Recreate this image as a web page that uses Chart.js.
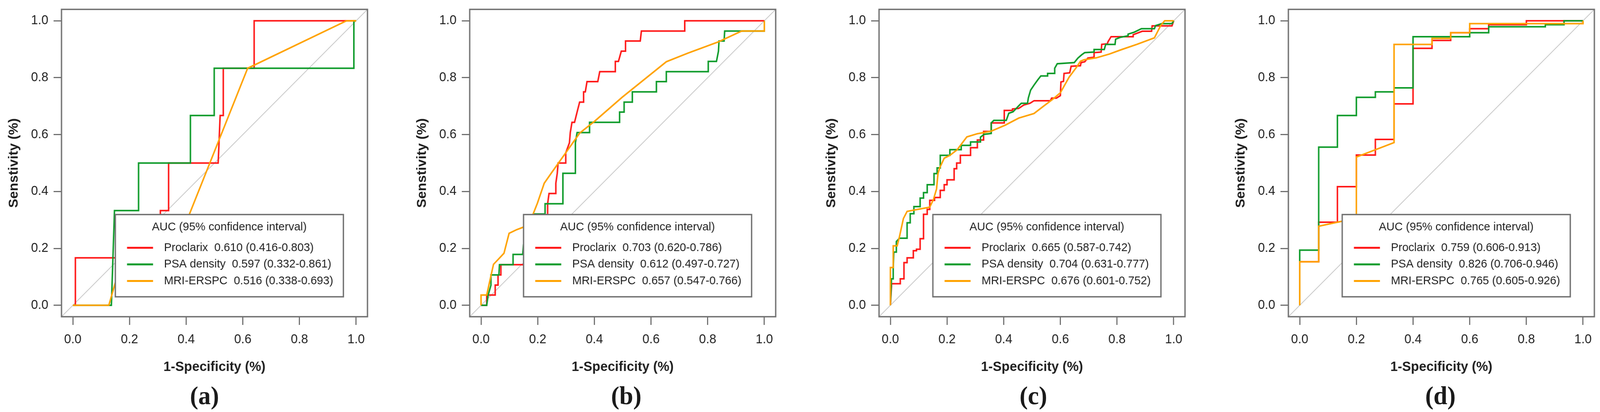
<!DOCTYPE html>
<html>
<head>
<meta charset="utf-8">
<script src="https://cdn.jsdelivr.net/npm/chart.js@4.4.0/dist/chart.umd.min.js"></script>
<style>
html, body { margin: 0; padding: 0; background: #fff; overflow: hidden; }
#page { position: relative; width: 4241px; height: 1055px; transform-origin: 0 0; }
#page canvas { position: absolute; top: 0; }
.tag { position: absolute; top: 980px; font: bold 66px "Liberation Serif", "Times New Roman", serif; line-height: 66px; color: #1a1a1a; transform: translateX(-50%); white-space: nowrap; }
</style>
</head>
<body>
<div id="page"></div>
<script>
// ---- data ----
const tickValues = [0, 0.2, 0.4, 0.6, 0.8, 1.0];
const modelNames = ['Proclarix', 'PSA density', 'MRI-ERSPC'];
const panelTags = ['(a)', '(b)', '(c)', '(d)'];

const aucA = ['0.610 (0.416-0.803)', '0.597 (0.332-0.861)', '0.516 (0.338-0.693)'];
const aucB = ['0.703 (0.620-0.786)', '0.612 (0.497-0.727)', '0.657 (0.547-0.766)'];
const aucC = ['0.665 (0.587-0.742)', '0.704 (0.631-0.777)', '0.676 (0.601-0.752)'];
const aucD = ['0.759 (0.606-0.913)', '0.826 (0.706-0.946)', '0.765 (0.605-0.926)'];

// reference line y = x across the whole plot region
const chanceLine = [[-0.04, -0.04], [1.04, 1.04]];

// [1-specificity, sensitivity]
const rocA_proclarix = [[0,0],[0.009,0],[0.009,0.167],[0.309,0.167],[0.309,0.333],[0.338,0.333],[0.338,0.5],[0.513,0.5],[0.52,0.667],[0.531,0.667],[0.531,0.833],[0.64,0.833],[0.64,1],[1,1]];
const rocA_psa = [[0,0],[0.136,0],[0.147,0.333],[0.232,0.333],[0.232,0.5],[0.415,0.5],[0.415,0.667],[0.499,0.667],[0.499,0.833],[0.992,0.833],[0.992,1],[1,1]];
const rocA_mri = [[0,0],[0.127,0],[0.175,0.167],[0.35,0.167],[0.617,0.833],[0.966,1],[1,1]];

const rocB_proclarix = [[0,0],[0.02,0],[0.02,0.036],[0.05,0.036],[0.05,0.071],[0.06,0.071],[0.06,0.107],[0.07,0.107],[0.07,0.143],[0.17,0.143],[0.17,0.214],[0.2,0.25],[0.225,0.286],[0.235,0.321],[0.235,0.357],[0.24,0.393],[0.264,0.393],[0.264,0.429],[0.269,0.464],[0.272,0.5],[0.299,0.5],[0.299,0.536],[0.312,0.571],[0.315,0.607],[0.321,0.643],[0.33,0.643],[0.339,0.679],[0.348,0.714],[0.362,0.714],[0.362,0.75],[0.368,0.75],[0.374,0.786],[0.412,0.786],[0.419,0.821],[0.474,0.821],[0.474,0.857],[0.485,0.857],[0.495,0.893],[0.51,0.893],[0.51,0.929],[0.562,0.929],[0.566,0.964],[0.719,0.964],[0.719,1],[1,1]];
const rocB_psa = [[0,0],[0.02,0],[0.025,0.036],[0.035,0.071],[0.035,0.107],[0.063,0.107],[0.065,0.143],[0.113,0.143],[0.113,0.179],[0.147,0.179],[0.15,0.214],[0.17,0.25],[0.185,0.286],[0.185,0.321],[0.226,0.321],[0.226,0.357],[0.289,0.357],[0.289,0.464],[0.333,0.464],[0.333,0.571],[0.339,0.607],[0.383,0.607],[0.383,0.643],[0.489,0.643],[0.489,0.679],[0.505,0.679],[0.505,0.714],[0.534,0.714],[0.534,0.75],[0.619,0.75],[0.619,0.786],[0.654,0.786],[0.654,0.821],[0.802,0.821],[0.802,0.857],[0.831,0.857],[0.838,0.893],[0.84,0.929],[0.858,0.929],[0.86,0.964],[1,0.964],[1,1]];
const rocB_mri = [[0,0],[0,0.036],[0.02,0.036],[0.035,0.104],[0.044,0.144],[0.063,0.164],[0.081,0.183],[0.099,0.253],[0.126,0.266],[0.15,0.275],[0.183,0.319],[0.199,0.359],[0.223,0.429],[0.249,0.466],[0.299,0.536],[0.348,0.605],[0.401,0.647],[0.498,0.731],[0.654,0.856],[0.73,0.886],[0.838,0.926],[0.92,0.964],[1,0.964],[1,1]];

const rocC_proclarix = [[0,0],[0.004,0.068],[0.004,0.076],[0.035,0.076],[0.035,0.093],[0.048,0.093],[0.048,0.15],[0.059,0.15],[0.059,0.167],[0.081,0.167],[0.081,0.192],[0.092,0.192],[0.092,0.197],[0.105,0.197],[0.105,0.234],[0.117,0.234],[0.117,0.32],[0.13,0.32],[0.13,0.337],[0.139,0.337],[0.139,0.369],[0.156,0.369],[0.156,0.379],[0.176,0.379],[0.176,0.404],[0.19,0.404],[0.19,0.424],[0.2,0.424],[0.2,0.441],[0.225,0.441],[0.225,0.48],[0.234,0.48],[0.234,0.5],[0.247,0.5],[0.247,0.527],[0.283,0.527],[0.283,0.554],[0.307,0.554],[0.307,0.581],[0.329,0.581],[0.329,0.611],[0.356,0.611],[0.356,0.641],[0.402,0.641],[0.402,0.685],[0.431,0.685],[0.431,0.69],[0.453,0.692],[0.471,0.704],[0.493,0.71],[0.507,0.719],[0.565,0.719],[0.569,0.728],[0.586,0.728],[0.6,0.737],[0.602,0.785],[0.611,0.787],[0.613,0.815],[0.633,0.817],[0.638,0.84],[0.671,0.842],[0.673,0.853],[0.686,0.856],[0.697,0.869],[0.719,0.872],[0.719,0.888],[0.744,0.89],[0.746,0.917],[0.766,0.919],[0.768,0.926],[0.779,0.944],[0.857,0.944],[0.857,0.951],[0.889,0.963],[0.922,0.963],[0.924,0.982],[0.994,0.982],[1,1]];
const rocC_psa = [[0,0],[0.004,0.093],[0.01,0.093],[0.01,0.128],[0.012,0.187],[0.021,0.187],[0.021,0.224],[0.032,0.236],[0.059,0.236],[0.059,0.29],[0.07,0.29],[0.07,0.322],[0.083,0.322],[0.083,0.347],[0.105,0.347],[0.105,0.377],[0.117,0.377],[0.117,0.396],[0.13,0.396],[0.13,0.424],[0.154,0.424],[0.154,0.463],[0.165,0.463],[0.165,0.483],[0.176,0.483],[0.176,0.527],[0.21,0.527],[0.21,0.547],[0.25,0.547],[0.25,0.562],[0.283,0.562],[0.283,0.574],[0.318,0.574],[0.318,0.591],[0.331,0.601],[0.356,0.604],[0.356,0.641],[0.365,0.65],[0.409,0.65],[0.418,0.675],[0.433,0.68],[0.453,0.701],[0.462,0.71],[0.484,0.71],[0.487,0.729],[0.495,0.756],[0.507,0.774],[0.52,0.792],[0.531,0.806],[0.555,0.806],[0.555,0.815],[0.58,0.815],[0.58,0.833],[0.589,0.849],[0.649,0.853],[0.662,0.869],[0.676,0.881],[0.686,0.888],[0.719,0.89],[0.719,0.899],[0.755,0.899],[0.76,0.917],[0.793,0.917],[0.795,0.935],[0.812,0.942],[0.839,0.947],[0.839,0.953],[0.861,0.96],[0.886,0.972],[0.932,0.972],[0.936,0.983],[0.958,0.99],[0.994,0.99],[1,1]];
const rocC_mri = [[0,0],[0,0.133],[0.01,0.133],[0.01,0.209],[0.024,0.209],[0.032,0.241],[0.046,0.305],[0.059,0.33],[0.139,0.345],[0.152,0.372],[0.163,0.409],[0.168,0.463],[0.174,0.483],[0.19,0.517],[0.21,0.527],[0.236,0.547],[0.254,0.571],[0.27,0.592],[0.307,0.603],[0.356,0.612],[0.405,0.633],[0.453,0.658],[0.507,0.674],[0.542,0.701],[0.573,0.724],[0.6,0.747],[0.631,0.802],[0.658,0.838],[0.671,0.858],[0.684,0.863],[0.728,0.87],[0.773,0.883],[0.817,0.899],[0.87,0.917],[0.932,0.94],[0.954,0.983],[0.968,1],[1,1]];

const rocD_proclarix = [[0,0],[0,0.153],[0.067,0.153],[0.067,0.292],[0.133,0.292],[0.133,0.417],[0.2,0.417],[0.2,0.528],[0.267,0.528],[0.267,0.583],[0.333,0.583],[0.333,0.708],[0.4,0.708],[0.4,0.903],[0.467,0.903],[0.467,0.931],[0.533,0.931],[0.533,0.958],[0.6,0.958],[0.6,0.972],[0.667,0.972],[0.667,0.986],[0.8,0.986],[0.8,1],[1,1]];
const rocD_psa = [[0,0],[0,0.194],[0.067,0.194],[0.067,0.556],[0.133,0.556],[0.133,0.667],[0.2,0.667],[0.2,0.731],[0.267,0.731],[0.267,0.75],[0.333,0.75],[0.333,0.764],[0.4,0.764],[0.4,0.944],[0.6,0.944],[0.6,0.958],[0.667,0.958],[0.667,0.979],[0.867,0.979],[0.867,0.986],[0.933,0.986],[0.933,1],[1,1]];
const rocD_mri = [[0,0],[0,0.153],[0.067,0.153],[0.067,0.278],[0.133,0.292],[0.2,0.306],[0.2,0.521],[0.333,0.572],[0.333,0.917],[0.467,0.917],[0.467,0.938],[0.533,0.938],[0.533,0.958],[0.6,0.958],[0.6,0.99],[1,0.99],[1,1]];

// ---- styling ----
const FONT = '"Liberation Sans", Arial, Helvetica, sans-serif';
const TEXT = '#1f1f1f';
const FRAME = '#707070';
const seriesColors = ['#ff1a1a', '#109c2c', '#ffa200'];
const boxLefts = [163, 1245, 2330, 3415];
const tagCenters = [542, 1660, 2739, 3818];

const panels = [
  { tag: panelTags[0], auc: aucA, curves: [rocA_proclarix, rocA_psa, rocA_mri] },
  { tag: panelTags[1], auc: aucB, curves: [rocB_proclarix, rocB_psa, rocB_mri] },
  { tag: panelTags[2], auc: aucC, curves: [rocC_proclarix, rocC_psa, rocC_mri] },
  { tag: panelTags[3], auc: aucD, curves: [rocD_proclarix, rocD_psa, rocD_mri] }
];

const toXY = pts => pts.map(p => ({ x: p[0], y: p[1] }));

// legend box inside the plot + the R-style frame
const rocDecor = {
  id: 'rocDecor',
  afterDatasetsDraw(chart, args, opts) {
    const { ctx, scales: { x, y } } = chart;
    const l = x.getPixelForValue(0.15), r = x.getPixelForValue(0.955);
    const t = y.getPixelForValue(0.319), b = y.getPixelForValue(0.03);
    ctx.save();
    ctx.fillStyle = '#fff';
    ctx.fillRect(l, t, r - l, b - t);
    ctx.strokeStyle = FRAME;
    ctx.lineWidth = 3.5;
    ctx.strokeRect(l, t, r - l, b - t);
    ctx.fillStyle = TEXT;
    ctx.font = '30px ' + FONT;
    ctx.textBaseline = 'middle';
    ctx.textAlign = 'center';
    ctx.fillText('AUC (95% confidence interval)', (l + r) / 2, t + 32);
    ctx.textAlign = 'left';
    opts.rows.forEach((row, i) => {
      const yy = t + 85 + i * 42.5;
      ctx.strokeStyle = row.color;
      ctx.lineWidth = 5;
      ctx.beginPath();
      ctx.moveTo(l + 31, yy);
      ctx.lineTo(l + 100, yy);
      ctx.stroke();
      ctx.fillText(row.text, l + 129, yy);
    });
    ctx.restore();
  },
  afterDraw(chart) {
    const { ctx, chartArea: a } = chart;
    ctx.save();
    ctx.strokeStyle = FRAME;
    ctx.lineWidth = 3.5;
    ctx.strokeRect(a.left, a.top, a.right - a.left, a.bottom - a.top);
    ctx.restore();
  }
};

const axisCommon = (title, titlePad) => ({
  type: 'linear',
  min: -0.04,
  max: 1.04,
  afterBuildTicks: s => { s.ticks = tickValues.map(v => ({ value: v })); },
  grid: { drawOnChartArea: false, drawTicks: true, tickLength: 21, tickColor: FRAME, tickWidth: 3 },
  border: { display: false },
  ticks: { callback: v => Number(v).toFixed(1), font: { family: FONT, size: 33 }, color: TEXT, maxRotation: 0, autoSkip: false },
  title: { display: true, text: title, color: TEXT, font: { family: FONT, size: 35, weight: 'bold' }, padding: titlePad }
});

const page = document.getElementById('page');
// the window may be narrower than the 4241px figure: squeeze horizontally so it all fits
const fit = Math.min(1, window.innerWidth / 4241);
page.style.transform = 'scaleX(' + fit + ')';

panels.forEach((p, i) => {
  const left = boxLefts[i] - 163;
  const width = Math.min(1060, 4241 - left);
  const canvas = document.createElement('canvas');
  canvas.width = width;
  canvas.height = 1055;
  canvas.style.left = left + 'px';
  page.appendChild(canvas);

  const tag = document.createElement('div');
  tag.className = 'tag';
  tag.style.left = tagCenters[i] + 'px';
  tag.textContent = p.tag;
  page.appendChild(tag);

  const datasets = p.curves.map((c, k) => ({
    label: modelNames[k],
    data: toXY(c),
    borderColor: seriesColors[k],
    borderWidth: 4,
    showLine: true,
    pointRadius: 0,
    tension: 0,
    fill: false,
    order: 2 - k
  }));
  datasets.push({
    label: 'chance',
    data: toXY(chanceLine),
    borderColor: '#c8c8c8',
    borderWidth: 2,
    showLine: true,
    pointRadius: 0,
    order: 5
  });

  const xAxis = axisCommon('1-Specificity (%)', { top: 0, bottom: 0 });
  xAxis.ticks.padding = 18;
  xAxis.afterFit = s => { s.height = 150; s.paddingLeft = 0; s.paddingRight = 0; };

  const yAxis = axisCommon('Senstivity (%)', { top: 16, bottom: 0 });
  yAxis.ticks.padding = 14;
  yAxis.afterFit = s => { s.width = 163; s.paddingTop = 0; s.paddingBottom = 0; };

  new Chart(canvas, {
    type: 'scatter',
    data: { datasets },
    options: {
      responsive: false,
      animation: false,
      devicePixelRatio: 1,
      layout: { padding: { left: 0, top: 24, right: width - 974, bottom: 1055 - 811 - 150 } },
      scales: { x: xAxis, y: yAxis },
      plugins: {
        legend: { display: false },
        tooltip: { enabled: false },
        rocDecor: { rows: p.auc.map((a, k) => ({ color: seriesColors[k], text: modelNames[k] + '  ' + a })) }
      }
    },
    plugins: [rocDecor]
  });
});
</script>
</body>
</html>
